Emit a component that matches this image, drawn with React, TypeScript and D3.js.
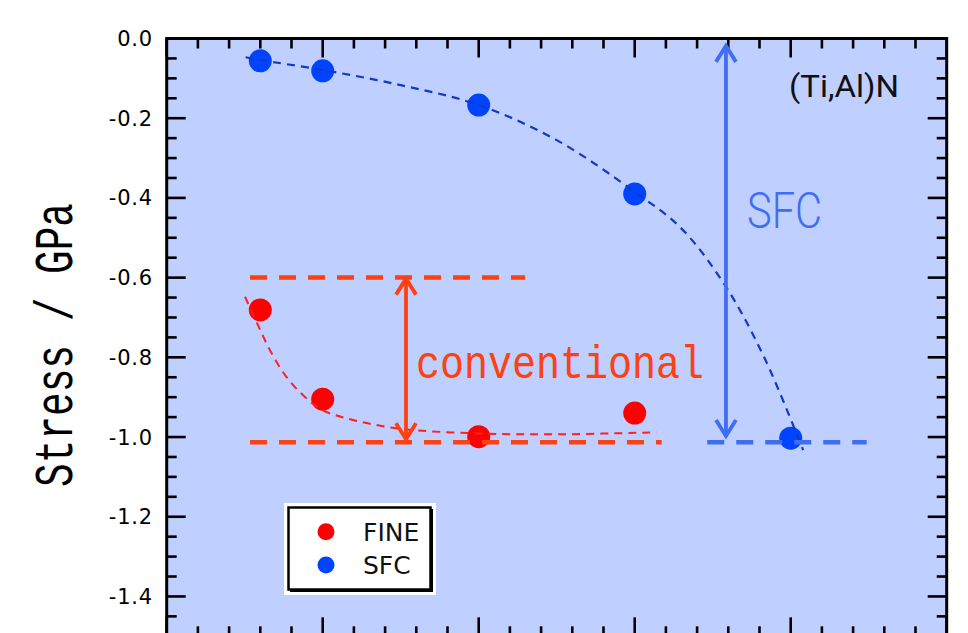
import React, { useEffect, useRef } from "react";
import * as d3 from "d3";

// measured points
const fineX = [0.6, 1, 2, 3];
const fineStress = [-0.681, -0.905, -0.999, -0.94];
const sfcX = [0.6, 1, 2, 3, 4];
const sfcStress = [-0.056, -0.081, -0.167, -0.39, -1.003];

// fitted guide curves
const fineFitX = [0.502, 0.585, 0.662, 0.758, 0.874, 0.997, 1.143, 1.474, 2.0, 2.54, 3.14];
const fineFitY = [-0.648, -0.719, -0.782, -0.844, -0.895, -0.932, -0.952, -0.978, -0.991, -0.993, -0.988];
const sfcFitX = [0.506, 0.6, 1.0, 1.5, 2.0, 2.5, 3.0, 3.3, 3.585, 3.83, 4.08];
const sfcFitY = [-0.047, -0.054, -0.079, -0.117, -0.167, -0.255, -0.385, -0.477, -0.623, -0.8, -1.033];

// reference levels: [x0, x1, y]
const fineLevels = [
  [0.534, 2.297, -0.6],
  [0.534, 3.173, -1.013],
];
const sfcLevels = [[3.465, 4.487, -1.013]];
// arrows: [x, yTop, yBottom]
const fineArrow = [1.534, -0.6, -1.008];
const sfcArrow = [3.585, -0.016, -1.0];

const yTicks = [0, -0.2, -0.4, -0.6, -0.8, -1.0, -1.2, -1.4];

const legendItems = [
  { name: "FINE", color: "#ff0000" },
  { name: "SFC", color: "#0044ff" },
];

const W = 968;
const H = 633;
const RED = "#ff4010";
const BLUE = "#3f6ef2";

const App: React.FC = () => {
  const svgRef = useRef<SVGSVGElement>(null);

  useEffect(() => {
    const svg = d3.select(svgRef.current);
    svg.selectAll("*").remove();

    const left = 166.7;
    const right = 946.7;
    const top = 38.5;
    const bottom = 636.3;

    const x = d3.scaleLinear().domain([0, 5]).range([left, right]);
    const y = d3.scaleLinear().domain([-1.5, 0]).range([bottom, top]);

    svg
      .append("rect")
      .attr("x", left)
      .attr("y", top)
      .attr("width", right - left)
      .attr("height", bottom - top)
      .attr("fill", "#bfcfff");

    // inward ticks
    const ticks = svg.append("g").attr("stroke", "#000").attr("stroke-width", 2.6);
    const xMinor = d3.range(0, 5.001, 0.2);
    xMinor.forEach((v) => {
      const major = Math.abs(v - Math.round(v)) < 1e-6;
      const len = major ? 19 : 10;
      ticks.append("line").attr("x1", x(v)).attr("x2", x(v)).attr("y1", top).attr("y2", top + len);
      ticks.append("line").attr("x1", x(v)).attr("x2", x(v)).attr("y1", bottom).attr("y2", bottom - len);
    });
    const yMinor = d3.range(0, 30.5, 1).map((i) => -i * 0.05);
    yMinor.forEach((v, i) => {
      const len = i % 4 === 0 ? 19 : 10;
      ticks.append("line").attr("x1", left).attr("x2", left + len).attr("y1", y(v)).attr("y2", y(v));
      ticks.append("line").attr("x1", right).attr("x2", right - len).attr("y1", y(v)).attr("y2", y(v));
    });

    svg
      .append("rect")
      .attr("x", left)
      .attr("y", top)
      .attr("width", right - left)
      .attr("height", bottom - top)
      .attr("fill", "none")
      .attr("stroke", "#000")
      .attr("stroke-width", 3);

    svg
      .append("g")
      .selectAll("text")
      .data(yTicks)
      .enter()
      .append("text")
      .attr("x", 153)
      .attr("y", (d) => y(d))
      .attr("dy", "0.36em")
      .attr("text-anchor", "end")
      .style("font-family", "'DejaVu Sans', sans-serif")
      .style("font-size", "21px")
      .style("letter-spacing", "0.8px")
      .text((d) => d3.format(".1f")(d).replace("−", "-"));

    svg
      .append("text")
      .attr("transform", `translate(72,345) rotate(-90)`)
      .attr("text-anchor", "middle")
      .attr("textLength", 284)
      .attr("lengthAdjust", "spacingAndGlyphs")
      .style("font-family", "'Liberation Mono', monospace")
      .style("font-size", "53px")
      .text("Stress / GPa");

    // data points
    svg
      .append("g")
      .selectAll("circle")
      .data(fineX.map((v, i) => [v, fineStress[i]]))
      .enter()
      .append("circle")
      .attr("cx", (d) => x(d[0]))
      .attr("cy", (d) => y(d[1]))
      .attr("r", 11.5)
      .attr("fill", "#ff0000");
    svg
      .append("g")
      .selectAll("circle")
      .data(sfcX.map((v, i) => [v, sfcStress[i]]))
      .enter()
      .append("circle")
      .attr("cx", (d) => x(d[0]))
      .attr("cy", (d) => y(d[1]))
      .attr("r", 11.5)
      .attr("fill", "#0044ff");

    const line = d3
      .line<number[]>()
      .x((d) => x(d[0]))
      .y((d) => y(d[1]))
      .curve(d3.curveCatmullRom.alpha(0.5));

    svg
      .append("path")
      .attr("d", line(fineFitX.map((v, i) => [v, fineFitY[i]])))
      .attr("fill", "none")
      .attr("stroke", "#ff2020")
      .attr("stroke-width", 2)
      .attr("stroke-dasharray", "8 6");
    svg
      .append("path")
      .attr("d", line(sfcFitX.map((v, i) => [v, sfcFitY[i]])))
      .attr("fill", "none")
      .attr("stroke", "#1238c8")
      .attr("stroke-width", 2.2)
      .attr("stroke-dasharray", "8 6");

    const levels = (rows: number[][], color: string) =>
      rows.forEach((r) =>
        svg
          .append("line")
          .attr("x1", x(r[0]))
          .attr("x2", x(r[1]))
          .attr("y1", y(r[2]))
          .attr("y2", y(r[2]))
          .attr("stroke", color)
          .attr("stroke-width", 4.5)
          .attr("stroke-dasharray", "17 12")
      );
    levels(fineLevels, RED);
    levels(sfcLevels, BLUE);

    const arrow = (a: number[], color: string) => {
      const ax = x(a[0]);
      const y0 = y(a[1]);
      const y1 = y(a[2]);
      const g = svg
        .append("g")
        .attr("stroke", color)
        .attr("stroke-width", 3.8)
        .attr("fill", "none");
      g.append("line").attr("x1", ax).attr("x2", ax).attr("y1", y0).attr("y2", y1);
      g.append("path").attr("d", `M${ax - 10},${y0 + 17}L${ax},${y0 + 1}L${ax + 10},${y0 + 17}`);
      g.append("path").attr("d", `M${ax - 10},${y1 - 17}L${ax},${y1 - 1}L${ax + 10},${y1 - 17}`);
    };
    arrow(fineArrow, RED);
    arrow(sfcArrow, BLUE);

    svg
      .append("text")
      .attr("x", 416)
      .attr("y", 378)
      .attr("textLength", 288)
      .attr("lengthAdjust", "spacingAndGlyphs")
      .style("font-family", "'Liberation Mono', monospace")
      .style("font-size", "47px")
      .style("fill", RED)
      .text("conventional");

    svg
      .append("text")
      .attr("x", 747)
      .attr("y", 228)
      .attr("textLength", 75)
      .attr("lengthAdjust", "spacingAndGlyphs")
      .style("font-family", "Roboto, sans-serif")
      .style("font-weight", 300)
      .style("font-size", "50px")
      .style("fill", BLUE)
      .text("SFC");

    svg
      .append("text")
      .attr("x", 789)
      .attr("y", 97)
      .attr("textLength", 110)
      .attr("lengthAdjust", "spacingAndGlyphs")
      .style("font-family", "Roboto, sans-serif")
      .style("font-size", "31px")
      .style("fill", "#111")
      .text("(Ti,Al)N");

    // legend
    const lg = svg.append("g");
    lg.append("rect").attr("x", 284).attr("y", 503).attr("width", 152).attr("height", 92).attr("fill", "#fff");
    lg.append("rect").attr("x", 290).attr("y", 509).attr("width", 143).attr("height", 83).attr("fill", "#000");
    lg.append("rect")
      .attr("x", 288.5)
      .attr("y", 507.5)
      .attr("width", 142)
      .attr("height", 82)
      .attr("fill", "#fff")
      .attr("stroke", "#000")
      .attr("stroke-width", 2.5);
    legendItems.forEach((item, i) => {
      const cy = 531.7 + i * 33.3;
      lg.append("circle").attr("cx", 326).attr("cy", cy).attr("r", 8.5).attr("fill", item.color);
      lg.append("text")
        .attr("x", 363)
        .attr("y", cy + 9)
        .style("font-family", "'DejaVu Sans', sans-serif")
        .style("font-size", "25px")
        .style("fill", "#111")
        .text(item.name);
    });

    return () => {
      svg.selectAll("*").remove();
    };
  }, []);

  return (
    <svg
      ref={svgRef}
      width={W}
      height={H}
      style={{ position: "absolute", left: 0, top: 0, display: "block", background: "#fff" }}
    />
  );
};

export default App;
